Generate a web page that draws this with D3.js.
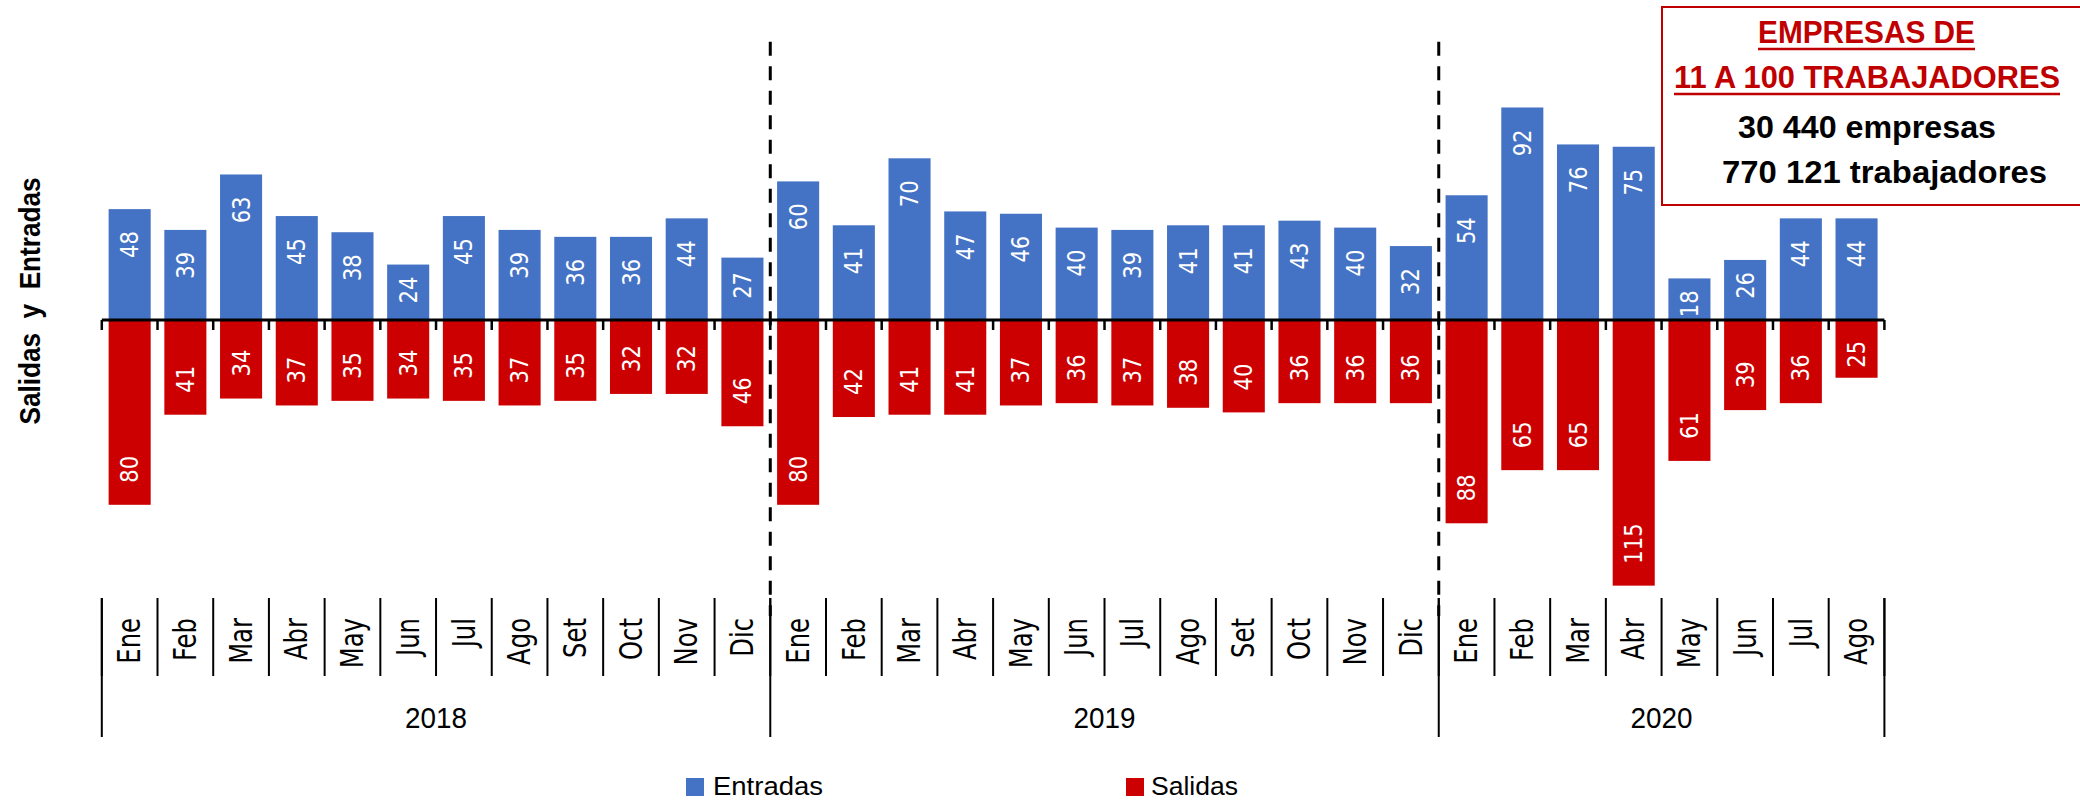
<!DOCTYPE html>
<html>
<head>
<meta charset="utf-8">
<script src="https://cdn.jsdelivr.net/npm/d3@7"></script>
<style>
  html, body { margin: 0; padding: 0; background: #fff; }
  svg { display: block; }
</style>
</head>
<body>
<svg id="chart" width="2080" height="800"></svg>
<script>
const years = ['2018', '2019', '2020']
const monthsPerYear = [12, 12, 8]
const monthNames = ['Ene', 'Feb', 'Mar', 'Abr', 'May', 'Jun', 'Jul', 'Ago', 'Set', 'Oct', 'Nov', 'Dic']

const entradas = [
  48, 39, 63, 45, 38, 24, 45, 39, 36, 36, 44, 27,
  60, 41, 70, 47, 46, 40, 39, 41, 41, 43, 40, 32,
  54, 92, 76, 75, 18, 26, 44, 44
]
const salidas = [
  80, 41, 34, 37, 35, 34, 35, 37, 35, 32, 32, 46,
  80, 42, 41, 41, 37, 36, 37, 38, 40, 36, 36, 36,
  88, 65, 65, 115, 61, 39, 36, 25
]

const seriesNames = ['Entradas', 'Salidas']
const blue = '#4472C4'
const red = '#CC0000'
const titleRed = '#C00000'

// one row per month
let rows = []
years.forEach((yr, yi) => {
  d3.range(monthsPerYear[yi]).forEach((m) => {
    const i = rows.length
    rows.push({key: yr + '-' + monthNames[m], year: yr, month: monthNames[m], ent: entradas[i], sal: salidas[i]})
  })
})

const svg = d3.select('#chart')

const x = d3.scaleBand()
  .domain(rows.map((d) => d.key))
  .range([101.8, 1884.4])
  .paddingInner(0.245)
  .paddingOuter(0.1225)
const step = x.step()
const x0 = x.range()[0]

const y = d3.scaleLinear().domain([-130, 130]).range([620.3, 19.7])
const zeroY = y(0)

// bars
const bars = svg.append('g')
bars.selectAll('rect.ent')
  .data(rows)
  .join('rect')
  .attr('class', 'ent')
  .attr('x', (d) => x(d.key))
  .attr('width', x.bandwidth())
  .attr('y', (d) => y(d.ent))
  .attr('height', (d) => zeroY - y(d.ent))
  .attr('fill', blue)

bars.selectAll('rect.sal')
  .data(rows)
  .join('rect')
  .attr('class', 'sal')
  .attr('x', (d) => x(d.key))
  .attr('width', x.bandwidth())
  .attr('y', zeroY)
  .attr('height', (d) => y(-d.sal) - zeroY)
  .attr('fill', red)

// value labels, rotated, inside end
const labels = svg.append('g')
  .attr('font-family', 'DejaVu Sans, Verdana, sans-serif')
  .attr('font-size', 24)
  .attr('fill', '#fff')

labels.selectAll('text.ent')
  .data(rows)
  .join('text')
  .attr('class', 'ent')
  .attr('text-anchor', 'end')
  .attr('dominant-baseline', 'central')
  .attr('transform', (d) => {
    const top = y(d.ent)
    const ty = Math.min(top + 22, Math.max(272, top + 12))
    return `translate(${x(d.key) + x.bandwidth() / 2},${ty}) rotate(-90) scale(0.88,1)`
  })
  .text((d) => d.ent)

labels.selectAll('text.sal')
  .data(rows)
  .join('text')
  .attr('class', 'sal')
  .attr('text-anchor', 'start')
  .attr('dominant-baseline', 'central')
  .attr('transform', (d) => {
    const bot = y(-d.sal)
    const ty = Math.max(bot - 22, Math.min(368, bot - 10))
    return `translate(${x(d.key) + x.bandwidth() / 2},${ty}) rotate(-90) scale(0.88,1)`
  })
  .text((d) => d.sal)

// zero axis with ticks at band edges
const edges = d3.range(rows.length + 1).map((i) => x0 + i * step)
const axis = svg.append('g').attr('stroke', '#000')
axis.append('line')
  .attr('x1', x0).attr('x2', edges[edges.length - 1])
  .attr('y1', zeroY).attr('y2', zeroY)
  .attr('stroke-width', 3)
axis.selectAll('line.tick')
  .data(edges)
  .join('line')
  .attr('class', 'tick')
  .attr('x1', (d) => d).attr('x2', (d) => d)
  .attr('y1', zeroY).attr('y2', zeroY + 10)
  .attr('stroke-width', 2.5)

// year boundaries
let yearEdges = [0]
monthsPerYear.forEach((n) => yearEdges.push(yearEdges[yearEdges.length - 1] + n))

// dashed year separators
svg.append('g')
  .selectAll('line')
  .data(yearEdges.slice(1, -1))
  .join('line')
  .attr('x1', (d) => x0 + d * step).attr('x2', (d) => x0 + d * step)
  .attr('y1', 41.7).attr('y2', 616)
  .attr('stroke', '#000')
  .attr('stroke-width', 3)
  .attr('stroke-dasharray', '14,10.5')

// category axis at the bottom
const cat = svg.append('g')
cat.selectAll('line.msep')
  .data(edges)
  .join('line')
  .attr('class', 'msep')
  .attr('x1', (d) => d).attr('x2', (d) => d)
  .attr('y1', 598).attr('y2', 676)
  .attr('stroke', '#000').attr('stroke-width', 2)

cat.selectAll('line.ysep')
  .data(yearEdges)
  .join('line')
  .attr('class', 'ysep')
  .attr('x1', (d) => x0 + d * step).attr('x2', (d) => x0 + d * step)
  .attr('y1', 598).attr('y2', 737)
  .attr('stroke', '#000').attr('stroke-width', 2)

cat.selectAll('text.month')
  .data(rows)
  .join('text')
  .attr('class', 'month')
  .attr('font-family', 'DejaVu Sans, Verdana, sans-serif')
  .attr('font-size', 32)
  .attr('text-anchor', 'end')
  .attr('dominant-baseline', 'central')
  .attr('transform', (d) => `translate(${x(d.key) + x.bandwidth() / 2},618) rotate(-90) scale(0.76,1)`)
  .text((d) => d.month)

cat.selectAll('text.year')
  .data(years)
  .join('text')
  .attr('class', 'year')
  .attr('font-family', 'Liberation Sans Narrow, Liberation Sans, sans-serif')
  .attr('font-size', 30)
  .attr('text-anchor', 'middle')
  .attr('x', (d, i) => x0 + (yearEdges[i] + yearEdges[i + 1]) / 2 * step)
  .attr('y', 728)
  .attr('textLength', 62)
  .attr('lengthAdjust', 'spacingAndGlyphs')
  .text((d) => d)

// y axis title
svg.append('text')
  .attr('font-family', 'Liberation Sans, Arial, sans-serif')
  .attr('font-weight', 'bold')
  .attr('font-size', 29)
  .attr('text-anchor', 'middle')
  .attr('transform', 'translate(40,301) rotate(-90)')
  .attr('textLength', 247)
  .attr('lengthAdjust', 'spacingAndGlyphs')
  .attr('xml:space', 'preserve')
  .text('Salidas  y  Entradas')

// legend
const legendItems = [
  {name: seriesNames[0], color: blue, sx: 686, tx: 713, w: 110},
  {name: seriesNames[1], color: red, sx: 1126, tx: 1151, w: 87}
]
const legend = svg.append('g')
legend.selectAll('rect')
  .data(legendItems)
  .join('rect')
  .attr('x', (d) => d.sx).attr('y', 778)
  .attr('width', 18).attr('height', 18)
  .attr('fill', (d) => d.color)
legend.selectAll('text')
  .data(legendItems)
  .join('text')
  .attr('font-family', 'Liberation Sans Narrow, Liberation Sans, sans-serif')
  .attr('font-size', 25)
  .attr('x', (d) => d.tx).attr('y', 795)
  .attr('textLength', (d) => d.w)
  .attr('lengthAdjust', 'spacingAndGlyphs')
  .text((d) => d.name)

// title box
const box = svg.append('g')
box.append('rect')
  .attr('x', 1662).attr('y', 7)
  .attr('width', 440).attr('height', 198)
  .attr('fill', '#fff')
  .attr('stroke', titleRed).attr('stroke-width', 2)

const boxLines = [
  {text: 'EMPRESAS DE', x: 1758, y: 43, w: 217, color: titleRed, underline: true},
  {text: '11 A 100 TRABAJADORES', x: 1674, y: 88, w: 386, color: titleRed, underline: true},
  {text: '30 440 empresas', x: 1738, y: 138, w: 258, color: '#000', underline: false},
  {text: '770 121 trabajadores', x: 1722, y: 183, w: 325, color: '#000', underline: false}
]
box.selectAll('text')
  .data(boxLines)
  .join('text')
  .attr('font-family', 'Liberation Sans Narrow, Liberation Sans, sans-serif')
  .attr('font-weight', 'bold')
  .attr('font-size', 32)
  .attr('x', (d) => d.x).attr('y', (d) => d.y)
  .attr('textLength', (d) => d.w)
  .attr('lengthAdjust', 'spacingAndGlyphs')
  .attr('fill', (d) => d.color)
  .text((d) => d.text)
box.selectAll('line')
  .data(boxLines.filter((d) => d.underline))
  .join('line')
  .attr('x1', (d) => d.x).attr('x2', (d) => d.x + d.w)
  .attr('y1', (d) => d.y + 6).attr('y2', (d) => d.y + 6)
  .attr('stroke', titleRed).attr('stroke-width', 2.5)
</script>
</body>
</html>
